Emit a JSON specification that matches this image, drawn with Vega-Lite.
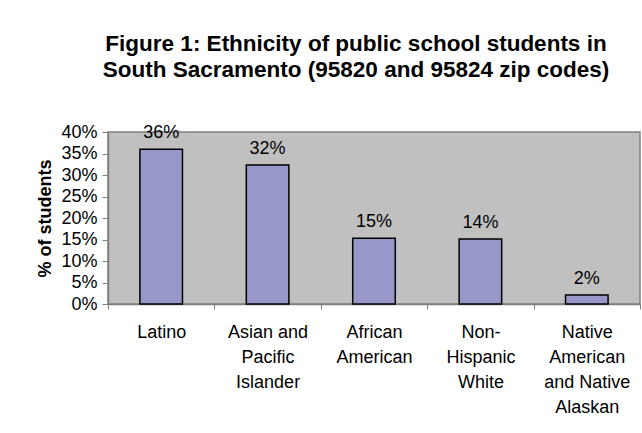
{
  "$schema": "https://vega.github.io/schema/vega-lite/v6.json",
  "width": 532,
  "height": 172,
  "autosize": "none",
  "padding": {"left": 108, "top": 132, "right": 2, "bottom": 129},
  "background": "white",
  "title": {
    "text": ["Figure 1: Ethnicity of public school students in", "South Sacramento (95820 and 95824 zip codes)"],
    "font": "Liberation Sans",
    "fontSize": 22.5,
    "fontWeight": "bold",
    "color": "black",
    "lineHeight": 26,
    "anchor": "middle",
    "dx": -18,
    "offset": 42
  },
  "data": {
    "values": [
      {"group": "Latino", "lines": "Latino", "share": 0.36, "label": "36%"},
      {"group": "Asian and Pacific Islander", "lines": "Asian and|Pacific|Islander", "share": 0.323, "label": "32%"},
      {"group": "African American", "lines": "African|American", "share": 0.153, "label": "15%"},
      {"group": "Non-Hispanic White", "lines": "Non-|Hispanic|White", "share": 0.151, "label": "14%"},
      {"group": "Native American and Native Alaskan", "lines": "Native|American|and Native|Alaskan", "share": 0.021, "label": "2%"}
    ]
  },
  "encoding": {
    "x": {
      "field": "lines",
      "type": "nominal",
      "sort": null,
      "scale": {"paddingInner": 0, "paddingOuter": 0},
      "axis": {
        "title": null,
        "labelAngle": 0,
        "labelExpr": "isValid(datum.value) ? split(datum.value, '|') : ''",
        "labelFont": "Liberation Sans",
        "labelFontSize": 18,
        "labelColor": "black",
        "labelLineHeight": 25,
        "labelPadding": 14,
        "labelBaseline": "top",
        "tickBand": "extent",
        "tickColor": "#808080",
        "tickSize": 5,
        "domainColor": "#808080",
        "domainWidth": 1.5,
        "grid": false
      }
    },
    "y": {
      "field": "share",
      "type": "quantitative",
      "scale": {"domain": [0, 0.4], "nice": false},
      "axis": {
        "title": "% of students",
        "titleFont": "Liberation Sans",
        "titleFontSize": 18,
        "titleFontWeight": "bold",
        "titleColor": "black",
        "titlePadding": 6,
        "format": ".0%",
        "values": [0, 0.05, 0.1, 0.15, 0.2, 0.25, 0.3, 0.35, 0.4],
        "labelFont": "Liberation Sans",
        "labelFontSize": 18,
        "labelColor": "black",
        "labelPadding": 5,
        "tickColor": "#808080",
        "tickSize": 6,
        "domainColor": "#808080",
        "domainWidth": 1.5,
        "grid": false
      }
    }
  },
  "layer": [
    {
      "mark": {"type": "bar", "width": {"band": 0.4}, "color": "#9797CA", "stroke": "black", "strokeWidth": 1.5}
    },
    {
      "mark": {"type": "text", "baseline": "bottom", "dy": -7, "font": "Liberation Sans", "fontSize": 18, "color": "black"},
      "encoding": {"text": {"field": "label"}}
    }
  ],
  "config": {
    "view": {"fill": "#C0C0C0", "stroke": "#808080", "strokeWidth": 1.5}
  }
}
